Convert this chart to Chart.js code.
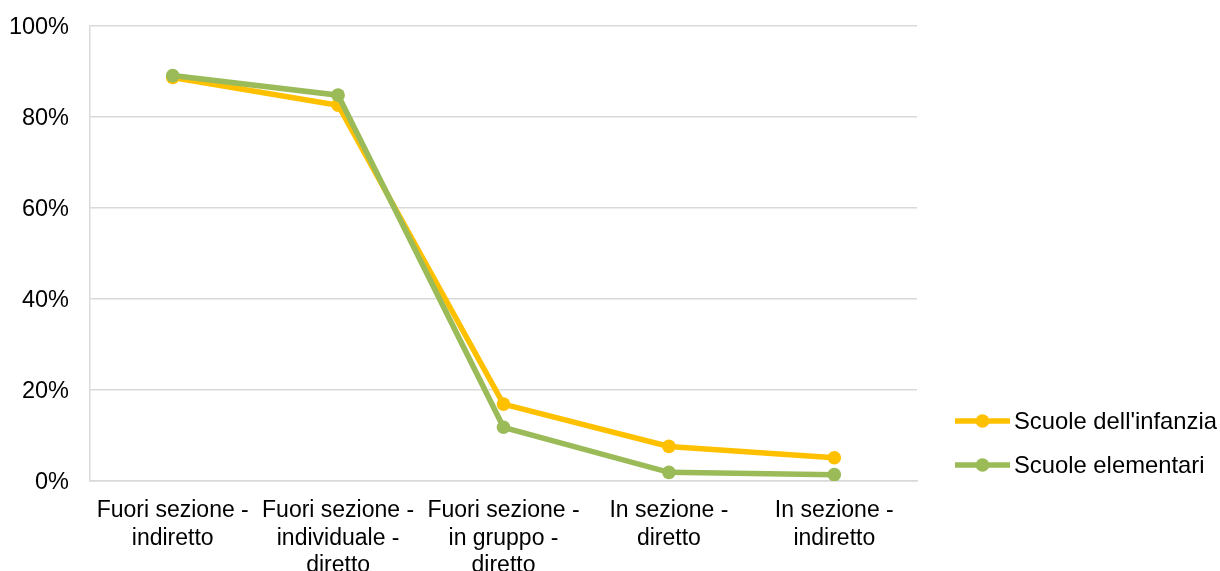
<!DOCTYPE html>
<html>
<head>
<meta charset="utf-8">
<script src="https://cdn.jsdelivr.net/npm/chart.js@4"></script>
<style>
html,body{margin:0;padding:0;background:#fff;}
#wrap{width:1220px;height:571px;position:relative;}
</style>
</head>
<body>
<div id="wrap"><canvas id="c" width="1220" height="571"></canvas></div>
<script>
const categories = [
  ["Fuori sezione -", "indiretto"],
  ["Fuori sezione -", "individuale -", "diretto"],
  ["Fuori sezione -", "in gruppo -", "diretto"],
  ["In sezione -", "diretto"],
  ["In sezione -", "indiretto"]
];
const seriesNames = ["Scuole dell'infanzia", "Scuole elementari"];
const infanzia = [88.7, 82.6, 16.9, 7.6, 5.1];
const elementari = [89.1, 84.8, 11.8, 1.9, 1.4];
const yTicks = [0, 20, 40, 60, 80, 100];
const colors = ["#FFC000", "#9BBB59"];

const FONT = "'Liberation Sans', Arial, sans-serif";

const legendPlugin = {
  id: 'customLegend',
  afterDraw(chart) {
    const ctx = chart.ctx;
    ctx.save();
    const ys = [421, 465];
    chart.data.datasets.forEach((ds, i) => {
      const y = ys[i];
      ctx.strokeStyle = ds.borderColor;
      ctx.lineWidth = 5.5;
      ctx.beginPath();
      ctx.moveTo(955, y);
      ctx.lineTo(1010, y);
      ctx.stroke();
      ctx.fillStyle = ds.borderColor;
      ctx.beginPath();
      ctx.arc(982.5, y, 6.8, 0, Math.PI * 2);
      ctx.fill();
      ctx.fillStyle = '#000';
      ctx.font = "23.8px " + FONT;
      ctx.textBaseline = 'middle';
      ctx.textAlign = 'left';
      ctx.fillText(ds.label, 1014, y + 1);
    });
    ctx.restore();
  }
};

new Chart(document.getElementById('c'), {
  type: 'line',
  data: {
    labels: categories,
    datasets: [
      { label: seriesNames[0], data: infanzia, borderColor: colors[0], backgroundColor: colors[0],
        borderWidth: 5.5, pointRadius: 6.8, pointBorderWidth: 0, pointBackgroundColor: colors[0], order: 2, tension: 0 },
      { label: seriesNames[1], data: elementari, borderColor: colors[1], backgroundColor: colors[1],
        borderWidth: 5.5, pointRadius: 6.8, pointBorderWidth: 0, pointBackgroundColor: colors[1], order: 1, tension: 0 }
    ]
  },
  options: {
    responsive: false,
    animation: false,
    devicePixelRatio: 1,
    layout: { padding: { top: 26, right: 303, left: 0, bottom: 0 } },
    plugins: { legend: { display: false }, tooltip: { enabled: false } },
    scales: {
      x: {
        offset: true,
        grid: { display: false, drawTicks: false },
        border: { display: true, color: '#D9D9D9', width: 1.5 },
        ticks: { color: '#000', font: { family: FONT, size: 23 }, padding: 16, maxRotation: 0, autoSkip: false },
        afterFit(scale) { scale.height = 90; }
      },
      y: {
        min: 0, max: 100,
        afterBuildTicks(scale) { scale.ticks = yTicks.map(v => ({ value: v })); },
        grid: { color: '#D9D9D9', lineWidth: 1.5, drawTicks: false },
        border: { display: true, color: '#D9D9D9', width: 1.5 },
        ticks: { color: '#000', font: { family: FONT, size: 23.5 }, padding: 21, labelOffset: 2, callback: v => v + '%' },
        afterFit(scale) { scale.width = 90; scale.paddingTop = 0; scale.paddingBottom = 0; }
      }
    }
  },
  plugins: [legendPlugin]
});
</script>
</body>
</html>
